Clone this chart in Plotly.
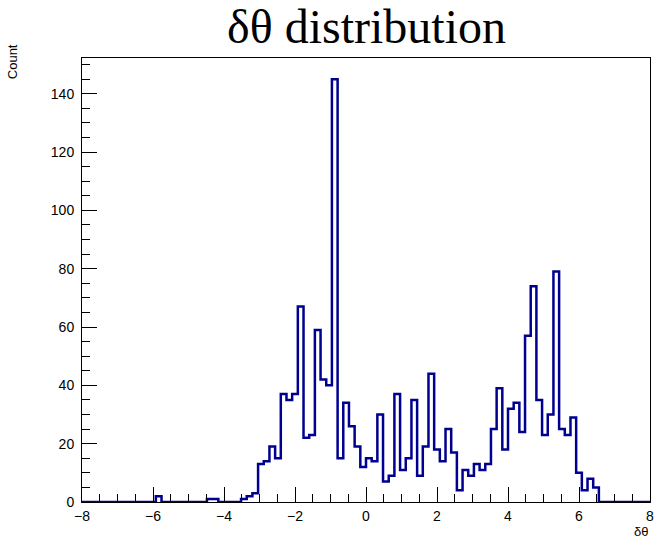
import numpy as np
import plotly.graph_objects as go

# Histogram definition (100 bins from -8 to 8)
x_min, x_max, n_bins = -8.0, 8.0, 100
counts = [
    0, 0, 0, 0, 0, 0, 0, 0, 0, 0,          # -8.00 .. -6.40
    0, 0, 0, 2, 0, 0, 0, 0, 0, 0,          # -6.40 .. -4.80
    0, 0, 1, 1, 0, 0, 0, 0, 1, 2,          # -4.80 .. -3.20
    3, 13, 14, 19, 15, 37, 35, 37, 67, 22, # -3.20 .. -1.60
    23, 59, 42, 40, 145, 15, 34, 26, 19, 12,  # -1.60 .. 0.00
    15, 14, 30, 7, 9, 37, 11, 15, 35, 9,   # 0.00 .. 1.60
    19, 44, 18, 14, 25, 17, 4, 11, 9, 13,  # 1.60 .. 3.20
    11, 13, 25, 39, 18, 32, 34, 24, 57, 74,  # 3.20 .. 4.80
    35, 23, 30, 79, 25, 23, 29, 10, 4, 8,  # 4.80 .. 6.40
    5, 0, 0, 0, 0, 0, 0, 0, 0, 0,          # 6.40 .. 8.00
]
x_ticks = [-8, -6, -4, -2, 0, 2, 4, 6, 8]
y_ticks = [0, 20, 40, 60, 80, 100, 120, 140]

edges = np.linspace(x_min, x_max, n_bins + 1)
step_y = counts + [counts[-1]]
y_max = max(counts) * 1.05

fig = go.Figure()
fig.add_trace(go.Scatter(
    x=edges, y=step_y, mode="lines", line_shape="hv",
    line=dict(color="#000090", width=2.5), showlegend=False,
    hoverinfo="skip",
))

axis_font = dict(family="Liberation Sans, Arial, sans-serif", size=14, color="black")

fig.update_xaxes(
    range=[x_min, x_max], tickvals=x_ticks, ticks="inside", ticklen=15,
    tickcolor="black", tickwidth=1,
    minor=dict(ticks="inside", dtick=0.5, ticklen=8, tickcolor="black", tickwidth=1),
    showline=True, linecolor="black", linewidth=1, mirror=True,
    showgrid=False, zeroline=False, tickfont=axis_font, ticklabelstandoff=1,
)
fig.update_yaxes(
    range=[0, y_max], tickvals=y_ticks, ticks="inside", ticklen=15,
    tickcolor="black", tickwidth=1,
    minor=dict(ticks="inside", dtick=5, ticklen=8, tickcolor="black", tickwidth=1),
    showline=True, linecolor="black", linewidth=1, mirror=True,
    showgrid=False, zeroline=False, tickfont=axis_font, ticklabelstandoff=4,
)

fig.update_layout(
    width=664, height=543,
    margin=dict(l=82, r=10, t=58, b=41),
    paper_bgcolor="white", plot_bgcolor="white",
    title=dict(text="δθ distribution", x=0.552, xanchor="center", y=0.982, yanchor="top",
               font=dict(family="Liberation Serif, Times New Roman, serif", size=48, color="black")),
    annotations=[
        dict(text="Count", xref="paper", yref="paper", x=-0.122, y=1.036,
             xanchor="center", yanchor="top", textangle=-90, showarrow=False,
             font=dict(family="Liberation Sans, Arial, sans-serif", size=13, color="black")),
        dict(text="δθ", xref="paper", yref="paper", x=1.0, y=-0.088,
             xanchor="right", yanchor="bottom", showarrow=False,
             font=dict(family="Liberation Sans, Arial, sans-serif", size=13, color="black")),
    ],
)

fig.write_html("out.html")
